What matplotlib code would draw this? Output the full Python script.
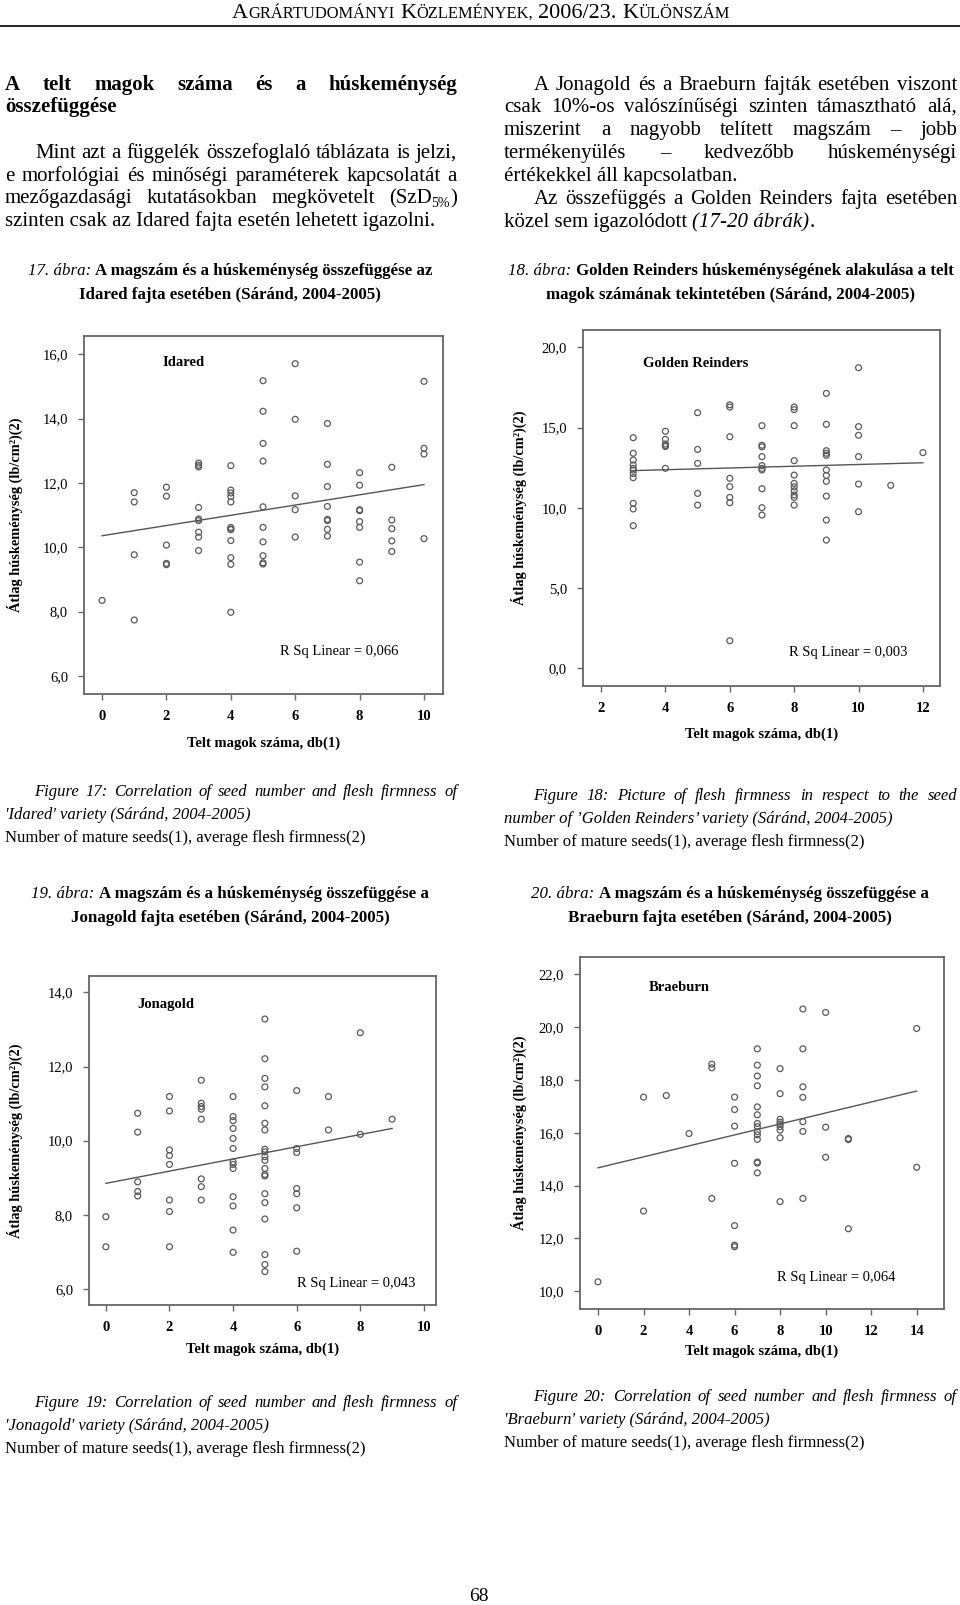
import matplotlib
matplotlib.use('Agg')
import numpy as np
import matplotlib.pyplot as plt
from matplotlib.font_manager import FontProperties

W, H = 960, 1605
SERIF = 'Liberation Serif'

# --- adatok (leolvasva az ábrákról) ---
idared_seeds = [0, 1, 2, 3, 4, 5, 6, 7, 8, 9, 10]
idared_firm = [
    [8.35],
    [11.70, 11.41, 9.77, 7.74],
    [11.87, 11.59, 10.07, 9.50, 9.46],
    [12.62, 12.55, 12.50, 11.24, 10.88, 10.83, 10.47, 10.32, 9.90],
    [12.54, 11.78, 11.69, 11.58, 11.41, 10.62, 10.57, 10.55, 10.21, 9.68, 9.47, 7.98],
    [15.18, 14.23, 13.23, 12.68, 11.26, 10.62, 10.17, 9.74, 9.52, 9.48],
    [15.71, 13.98, 11.60, 11.17, 10.32],
    [13.85, 12.58, 11.89, 11.27, 10.87, 10.83, 10.56, 10.35],
    [12.32, 11.93, 11.17, 11.14, 10.80, 10.62, 9.54, 8.96],
    [12.49, 10.85, 10.58, 10.20, 9.87],
    [15.16, 13.08, 12.90, 10.27],
]
idared_fit = [10.36, 11.95]
idared_r2 = '0,066'

golden_seeds = [3, 4, 5, 6, 7, 8, 9, 10, 11, 12]
golden_firm = [
    [14.37, 13.40, 12.98, 12.67, 12.46, 12.35, 12.14, 11.88, 10.28, 9.93, 8.89],
    [14.77, 14.27, 13.98, 13.88, 13.82, 12.46],
    [15.93, 13.64, 12.77, 10.90, 10.17],
    [16.42, 16.28, 14.43, 11.84, 11.32, 10.65, 10.32, 1.72],
    [15.12, 13.90, 13.80, 13.19, 12.63, 12.46, 12.36, 11.19, 10.01, 9.55],
    [16.28, 16.12, 15.12, 12.94, 12.04, 11.52, 11.31, 11.06, 10.80, 10.65, 10.17],
    [17.13, 15.20, 13.56, 13.40, 13.27, 12.36, 12.02, 11.65, 10.73, 9.24, 7.99],
    [18.73, 15.06, 14.52, 13.19, 11.48, 9.76],
    [11.40],
    [13.44],
]
golden_fit = [12.32, 12.81]
golden_r2 = '0,003'

jonagold_seeds = [0, 1, 2, 3, 4, 5, 6, 7, 8, 9]
jonagold_firm = [
    [7.95, 7.14],
    [10.74, 10.23, 8.89, 8.63, 8.51],
    [11.19, 10.80, 9.75, 9.60, 9.36, 8.40, 8.09, 7.14],
    [11.63, 11.01, 10.92, 10.85, 10.58, 8.97, 8.76, 8.40],
    [11.19, 10.65, 10.54, 10.33, 10.06, 9.79, 9.43, 9.36, 9.25, 8.49, 8.24, 7.59, 6.99],
    [13.28, 12.21, 11.68, 11.45, 10.94, 10.47, 10.29, 9.77, 9.70, 9.57, 9.47, 9.25,
     9.09, 9.05, 8.57, 8.33, 7.89, 6.93, 6.66, 6.47],
    [11.35, 9.79, 9.68, 8.71, 8.57, 8.19, 7.02],
    [11.19, 10.29],
    [12.91, 10.17],
    [10.58],
]
jonagold_fit = [8.85, 10.33]
jonagold_r2 = '0,043'

braeburn_seeds = [0, 2, 3, 4, 5, 6, 7, 8, 9, 10, 11, 14]
braeburn_firm = [
    [10.35],
    [17.35, 13.03],
    [17.41],
    [15.97],
    [18.60, 18.46, 13.51],
    [17.35, 16.88, 16.25, 14.84, 12.48, 11.74, 11.68],
    [19.18, 18.56, 18.15, 17.78, 16.98, 16.68, 16.35, 16.23, 16.04, 15.92, 15.75,
     14.89, 14.85, 14.48],
    [18.43, 17.48, 16.51, 16.40, 16.33, 16.23, 16.10, 15.81, 13.39],
    [20.69, 19.18, 17.74, 17.34, 16.42, 16.05, 13.51],
    [20.56, 16.21, 15.07],
    [15.78, 15.74, 12.36],
    [19.95, 14.69],
]
braeburn_fit = [14.67, 17.58]
braeburn_r2 = '0,064'

fig = plt.figure(figsize=(W / 100, H / 100), dpi=100)
renderer = fig.canvas.get_renderer()

BODY = dict(fontsize=15)
BOLD = dict(fontsize=15, fontweight='bold')
ITAL = dict(fontsize=15, fontstyle='italic')


def put(x, y, s, **kw):
    dy = kw.pop('dy', 0)
    return fig.text(x / W, 1 - (y + dy) / H, s, family=SERIF, va='baseline', **kw)


def width(s, **kw):
    fp = FontProperties(family=SERIF, size=kw.get('fontsize', 12),
                        weight=kw.get('fontweight', 'normal'),
                        style=kw.get('fontstyle', 'normal'))
    w, _, _ = renderer.get_text_width_height_descent(s, fp, ismath=False)
    return w


def words(s, kw):
    return [[(w, kw)] for w in s.split()]


def merge(ws):
    # szavak összevonása azonos stílusú futamokká (nem sorkizárt sorokhoz)
    out = []
    for w in ws:
        if out and len(w) == 1 and len(out[-1]) == 1 and out[-1][0][1] is w[0][1]:
            out[-1] = [(out[-1][0][0] + ' ' + w[0][0], w[0][1])]
        else:
            out.append(list(w))
    return out


def line(x0, y, ws, x1=None, ha='left'):
    k0 = ws[0][0][1]
    gap = width('a a', **k0) - width('aa', **k0)
    if x1 is None:
        ws = merge(ws)
    wl = [sum(width(t, **k) for t, k in w) for w in ws]
    if x1 is not None and len(ws) > 1:
        gap = (x1 - x0 - sum(wl)) / (len(ws) - 1)
    if ha == 'center':
        x0 = x0 - (sum(wl) + gap * (len(ws) - 1)) / 2
    x = x0
    for w in ws:
        for t, k in w:
            put(x, y, t, **k)
            x += width(t, **k)
        x += gap


# --- fejléc ---
big, small = dict(fontsize=16), dict(fontsize=11.9)
head = [[('A', big), ('GRÁRTUDOMÁNYI', small)],
        [('K', big), ('ÖZLEMÉNYEK,', small)],
        [('2006/23.', big)],
        [('K', big), ('ÜLÖNSZÁM', small)]]
line(481, 18, head, ha='center')
fig.add_artist(plt.Line2D([0, 1], [1 - 26 / H, 1 - 26 / H], color='black', lw=1.2))

# --- bal hasáb ---
line(5, 90, words('A telt magok száma és a húskeménység', BOLD), x1=457)
line(5, 112, words('összefüggése', BOLD))
line(35, 158, words('Mint azt a függelék összefoglaló táblázata is jelzi,', BODY), x1=457)
line(5, 181, words('e morfológiai és minőségi paraméterek kapcsolatát a', BODY), x1=457)
l3 = words('mezőgazdasági kutatásokban megkövetelt', BODY)
l3.append([('(SzD', BODY), ('5%', dict(fontsize=10, dy=4)), (')', BODY)])
line(5, 203, l3, x1=457)
line(5, 226, words('szinten csak az Idared fajta esetén lehetett igazolni.', BODY))

# --- jobb hasáb ---
line(534, 90, words('A Jonagold és a Braeburn fajták esetében viszont', BODY), x1=957)
line(504, 112, words('csak 10%-os valószínűségi szinten támasztható alá,', BODY), x1=957)
line(504, 135, words('miszerint a nagyobb telített magszám – jobb', BODY), x1=957)
line(504, 158, words('termékenyülés – kedvezőbb húskeménységi', BODY), x1=957)
line(504, 181, words('értékekkel áll kapcsolatban.', BODY))
line(534, 204, words('Az összefüggés a Golden Reinders fajta esetében', BODY), x1=957)
line(504, 227, [[('közel sem igazolódott', BODY)], [('(17-20 ábrák)', ITAL), ('.', BODY)]])


def abra(xc, y, num, t1, t2):
    cb = dict(fontsize=12.15, fontweight='bold')
    ci = dict(fontsize=12.15, fontstyle='italic')
    line(xc, y, [[(num + '. ábra:', ci)], [(t1, cb)]], ha='center')
    line(xc, y + 24, [[(t2, cb)]], ha='center')


abra(230, 275, '17', 'A magszám és a húskeménység összefüggése az',
     'Idared fajta esetében (Sáránd, 2004-2005)')
abra(731, 275, '18', 'Golden Reinders húskeménységének alakulása a telt',
     'magok számának tekintetében (Sáránd, 2004-2005)')
abra(230, 898, '19', 'A magszám és a húskeménység összefüggése a',
     'Jonagold fajta esetében (Sáránd, 2004-2005)')
abra(730, 898, '20', 'A magszám és a húskeménység összefüggése a',
     'Braeburn fajta esetében (Sáránd, 2004-2005)')


def figure_en(x0, x1, y, l1, l2):
    fi = dict(fontsize=12, fontstyle='italic')
    fn = dict(fontsize=12)
    line(x0 + 29, y, words(l1, fi), x1=x1)
    put(x0, y + 23, l2, **fi)
    put(x0, y + 46, 'Number of mature seeds(1), average flesh firmness(2)', **fn)


figure_en(5, 457, 796, 'Figure 17: Correlation of seed number and flesh firmness of',
          "'Idared' variety (Sáránd, 2004-2005)")
figure_en(504, 957, 800, 'Figure 18: Picture of flesh firmness in respect to the seed',
          'number of ’Golden Reinders’ variety (Sáránd, 2004-2005)')
figure_en(5, 457, 1407, 'Figure 19: Correlation of seed number and flesh firmness of',
          "'Jonagold' variety (Sáránd, 2004-2005)")
figure_en(504, 957, 1401, 'Figure 20: Correlation of seed number and flesh firmness of',
          "'Braeburn' variety (Sáránd, 2004-2005)")

put(479, 1601, '68', fontsize=14, ha='center')


# --- diagramok ---
def panel(box, seeds, firm, fit, r2, name, xlim, ylim, xticks, yticks,
          name_xy, r2_xy, ylab_x, xlab_y):
    l, t, r, b = box
    ax = fig.add_axes([l / W, 1 - b / H, (r - l) / W, (b - t) / H])
    xs = np.concatenate([[s] * len(f) for s, f in zip(seeds, firm)])
    ys = np.concatenate(firm)
    ax.scatter(xs, ys, s=18, facecolors='none', edgecolors='#5a5a5a', linewidths=0.9,
               zorder=3)
    ax.plot([seeds[0], seeds[-1]], fit, color='#555555', lw=1.0, zorder=2)
    ax.set_xlim(xlim)
    ax.set_ylim(ylim)
    ax.set_xticks(xticks)
    ax.set_yticks(yticks)
    ax.set_xticklabels([str(v) for v in xticks], family=SERIF, fontweight='bold',
                       fontsize=10.5)
    ax.set_yticklabels([f'{v:.1f}'.replace('.', ',') for v in yticks], family=SERIF,
                       fontsize=10.5)
    ax.tick_params(direction='out', length=4.5, width=1, color='#666666', pad=7)
    for sp in ax.spines.values():
        sp.set_color('#666666')
        sp.set_linewidth(1.3)
    put(name_xy[0], name_xy[1], name, fontsize=10.5, fontweight='bold')
    put(r2_xy[0], r2_xy[1], 'R Sq Linear = ' + r2, fontsize=10.5)
    put(ylab_x, (t + b) / 2, 'Átlag húskeménység (lb/cm²)(2)', fontsize=10.4,
        fontweight='bold', rotation=90, ha='center', rotation_mode='anchor')
    put((l + r) / 2, xlab_y, 'Telt magok száma, db(1)', fontsize=10.5,
        fontweight='bold', ha='center')
    return ax


panel((84, 336, 443, 694), idared_seeds, idared_firm, idared_fit, idared_r2, 'Idared',
      (-0.56, 10.59), (5.44, 16.57), range(0, 11, 2), range(6, 17, 2),
      (162, 366), (280, 655), 20, 747)
panel((583, 330, 940, 686), golden_seeds, golden_firm, golden_fit, golden_r2,
      'Golden Reinders', (1.44, 12.53), (-1.1, 21.08), range(2, 13, 2), range(0, 21, 5),
      (643, 367), (789, 656), 524, 738)
panel((89, 976, 436, 1305), jonagold_seeds, jonagold_firm, jonagold_fit, jonagold_r2,
      'Jonagold', (-0.53, 10.38), (5.57, 14.44), range(0, 11, 2), range(6, 15, 2),
      (137, 1008), (297, 1287), 20, 1353)
panel((580, 957, 944, 1309), braeburn_seeds, braeburn_firm, braeburn_fit, braeburn_r2,
      'Braeburn', (-0.79, 15.2), (9.32, 22.66), range(0, 15, 2), range(10, 23, 2),
      (649, 991), (777, 1281), 524, 1355)

fig.savefig('out.png', dpi=100)
